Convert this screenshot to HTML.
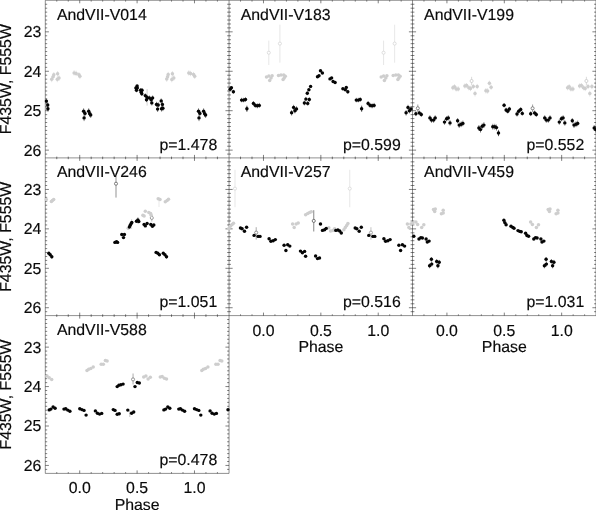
<!DOCTYPE html>
<html><head><meta charset="utf-8"><title>Light curves</title>
<style>html,body{margin:0;padding:0;background:#fff}svg{display:block;filter:grayscale(1)}text{font-family:"Liberation Sans",Arial,Helvetica,sans-serif;font-size:15.85px;fill:#0a0a0a;stroke:#0a0a0a;stroke-width:0.16px;text-rendering:geometricPrecision}</style></head><body>
<svg width="596" height="510" viewBox="0 0 596 510">
<rect width="596" height="510" fill="#fff"/>
<g stroke="#000" stroke-width="0.44" fill="none">
<path d="M45.30 0.30L596.00 0.30"/>
<path d="M45.30 157.90L596.00 157.90"/>
<path d="M45.30 315.60L596.00 315.60"/>
<path d="M45.30 473.40L229.05 473.40"/>
<path d="M45.30 0.30L45.30 473.40"/>
<path d="M229.05 0.30L229.05 473.40"/>
<path d="M412.50 0.30L412.50 315.60"/>
<path d="M596.00 0.30L596.00 315.60"/>
</g>
<path stroke="#000" stroke-width="0.5" fill="none" d="M45.30 4.24h1.90M229.05 4.24h-1.90M45.30 8.19h1.90M229.05 8.19h-1.90M45.30 12.13h1.90M229.05 12.13h-1.90M45.30 16.07h1.90M229.05 16.07h-1.90M45.30 20.02h1.90M229.05 20.02h-1.90M45.30 23.96h1.90M229.05 23.96h-1.90M45.30 27.90h1.90M229.05 27.90h-1.90M45.30 31.84h3.60M229.05 31.84h-3.60M45.30 35.79h1.90M229.05 35.79h-1.90M45.30 39.73h1.90M229.05 39.73h-1.90M45.30 43.67h1.90M229.05 43.67h-1.90M45.30 47.62h1.90M229.05 47.62h-1.90M45.30 51.56h1.90M229.05 51.56h-1.90M45.30 55.50h1.90M229.05 55.50h-1.90M45.30 59.45h1.90M229.05 59.45h-1.90M45.30 63.39h1.90M229.05 63.39h-1.90M45.30 67.33h1.90M229.05 67.33h-1.90M45.30 71.27h3.60M229.05 71.27h-3.60M45.30 75.22h1.90M229.05 75.22h-1.90M45.30 79.16h1.90M229.05 79.16h-1.90M45.30 83.10h1.90M229.05 83.10h-1.90M45.30 87.05h1.90M229.05 87.05h-1.90M45.30 90.99h1.90M229.05 90.99h-1.90M45.30 94.93h1.90M229.05 94.93h-1.90M45.30 98.88h1.90M229.05 98.88h-1.90M45.30 102.82h1.90M229.05 102.82h-1.90M45.30 106.76h1.90M229.05 106.76h-1.90M45.30 110.70h3.60M229.05 110.70h-3.60M45.30 114.65h1.90M229.05 114.65h-1.90M45.30 118.59h1.90M229.05 118.59h-1.90M45.30 122.53h1.90M229.05 122.53h-1.90M45.30 126.48h1.90M229.05 126.48h-1.90M45.30 130.42h1.90M229.05 130.42h-1.90M45.30 134.36h1.90M229.05 134.36h-1.90M45.30 138.31h1.90M229.05 138.31h-1.90M45.30 142.25h1.90M229.05 142.25h-1.90M45.30 146.19h1.90M229.05 146.19h-1.90M45.30 150.13h3.60M229.05 150.13h-3.60M45.30 154.08h1.90M229.05 154.08h-1.90M56.77 0.30v1.30M56.77 157.90v-1.30M68.25 0.30v1.30M68.25 157.90v-1.30M79.72 0.30v3.00M79.72 157.90v-3.00M91.20 0.30v1.30M91.20 157.90v-1.30M102.67 0.30v1.30M102.67 157.90v-1.30M114.15 0.30v1.30M114.15 157.90v-1.30M125.62 0.30v1.30M125.62 157.90v-1.30M137.10 0.30v3.00M137.10 157.90v-3.00M148.57 0.30v1.30M148.57 157.90v-1.30M160.05 0.30v1.30M160.05 157.90v-1.30M171.52 0.30v1.30M171.52 157.90v-1.30M183.00 0.30v1.30M183.00 157.90v-1.30M194.47 0.30v3.00M194.47 157.90v-3.00M205.95 0.30v1.30M205.95 157.90v-1.30M217.42 0.30v1.30M217.42 157.90v-1.30M229.05 4.24h1.90M412.50 4.24h-1.90M229.05 8.19h1.90M412.50 8.19h-1.90M229.05 12.13h1.90M412.50 12.13h-1.90M229.05 16.07h1.90M412.50 16.07h-1.90M229.05 20.02h1.90M412.50 20.02h-1.90M229.05 23.96h1.90M412.50 23.96h-1.90M229.05 27.90h1.90M412.50 27.90h-1.90M229.05 31.84h3.60M412.50 31.84h-3.60M229.05 35.79h1.90M412.50 35.79h-1.90M229.05 39.73h1.90M412.50 39.73h-1.90M229.05 43.67h1.90M412.50 43.67h-1.90M229.05 47.62h1.90M412.50 47.62h-1.90M229.05 51.56h1.90M412.50 51.56h-1.90M229.05 55.50h1.90M412.50 55.50h-1.90M229.05 59.45h1.90M412.50 59.45h-1.90M229.05 63.39h1.90M412.50 63.39h-1.90M229.05 67.33h1.90M412.50 67.33h-1.90M229.05 71.27h3.60M412.50 71.27h-3.60M229.05 75.22h1.90M412.50 75.22h-1.90M229.05 79.16h1.90M412.50 79.16h-1.90M229.05 83.10h1.90M412.50 83.10h-1.90M229.05 87.05h1.90M412.50 87.05h-1.90M229.05 90.99h1.90M412.50 90.99h-1.90M229.05 94.93h1.90M412.50 94.93h-1.90M229.05 98.88h1.90M412.50 98.88h-1.90M229.05 102.82h1.90M412.50 102.82h-1.90M229.05 106.76h1.90M412.50 106.76h-1.90M229.05 110.70h3.60M412.50 110.70h-3.60M229.05 114.65h1.90M412.50 114.65h-1.90M229.05 118.59h1.90M412.50 118.59h-1.90M229.05 122.53h1.90M412.50 122.53h-1.90M229.05 126.48h1.90M412.50 126.48h-1.90M229.05 130.42h1.90M412.50 130.42h-1.90M229.05 134.36h1.90M412.50 134.36h-1.90M229.05 138.31h1.90M412.50 138.31h-1.90M229.05 142.25h1.90M412.50 142.25h-1.90M229.05 146.19h1.90M412.50 146.19h-1.90M229.05 150.13h3.60M412.50 150.13h-3.60M229.05 154.08h1.90M412.50 154.08h-1.90M240.53 0.30v1.30M240.53 157.90v-1.30M252.00 0.30v1.30M252.00 157.90v-1.30M263.48 0.30v3.00M263.48 157.90v-3.00M274.95 0.30v1.30M274.95 157.90v-1.30M286.43 0.30v1.30M286.43 157.90v-1.30M297.90 0.30v1.30M297.90 157.90v-1.30M309.38 0.30v1.30M309.38 157.90v-1.30M320.85 0.30v3.00M320.85 157.90v-3.00M332.32 0.30v1.30M332.32 157.90v-1.30M343.80 0.30v1.30M343.80 157.90v-1.30M355.27 0.30v1.30M355.27 157.90v-1.30M366.75 0.30v1.30M366.75 157.90v-1.30M378.23 0.30v3.00M378.23 157.90v-3.00M389.70 0.30v1.30M389.70 157.90v-1.30M401.17 0.30v1.30M401.17 157.90v-1.30M412.50 4.24h1.90M596.00 4.24h-1.90M412.50 8.19h1.90M596.00 8.19h-1.90M412.50 12.13h1.90M596.00 12.13h-1.90M412.50 16.07h1.90M596.00 16.07h-1.90M412.50 20.02h1.90M596.00 20.02h-1.90M412.50 23.96h1.90M596.00 23.96h-1.90M412.50 27.90h1.90M596.00 27.90h-1.90M412.50 31.84h3.60M596.00 31.84h-3.60M412.50 35.79h1.90M596.00 35.79h-1.90M412.50 39.73h1.90M596.00 39.73h-1.90M412.50 43.67h1.90M596.00 43.67h-1.90M412.50 47.62h1.90M596.00 47.62h-1.90M412.50 51.56h1.90M596.00 51.56h-1.90M412.50 55.50h1.90M596.00 55.50h-1.90M412.50 59.45h1.90M596.00 59.45h-1.90M412.50 63.39h1.90M596.00 63.39h-1.90M412.50 67.33h1.90M596.00 67.33h-1.90M412.50 71.27h3.60M596.00 71.27h-3.60M412.50 75.22h1.90M596.00 75.22h-1.90M412.50 79.16h1.90M596.00 79.16h-1.90M412.50 83.10h1.90M596.00 83.10h-1.90M412.50 87.05h1.90M596.00 87.05h-1.90M412.50 90.99h1.90M596.00 90.99h-1.90M412.50 94.93h1.90M596.00 94.93h-1.90M412.50 98.88h1.90M596.00 98.88h-1.90M412.50 102.82h1.90M596.00 102.82h-1.90M412.50 106.76h1.90M596.00 106.76h-1.90M412.50 110.70h3.60M596.00 110.70h-3.60M412.50 114.65h1.90M596.00 114.65h-1.90M412.50 118.59h1.90M596.00 118.59h-1.90M412.50 122.53h1.90M596.00 122.53h-1.90M412.50 126.48h1.90M596.00 126.48h-1.90M412.50 130.42h1.90M596.00 130.42h-1.90M412.50 134.36h1.90M596.00 134.36h-1.90M412.50 138.31h1.90M596.00 138.31h-1.90M412.50 142.25h1.90M596.00 142.25h-1.90M412.50 146.19h1.90M596.00 146.19h-1.90M412.50 150.13h3.60M596.00 150.13h-3.60M412.50 154.08h1.90M596.00 154.08h-1.90M423.98 0.30v1.30M423.98 157.90v-1.30M435.45 0.30v1.30M435.45 157.90v-1.30M446.93 0.30v3.00M446.93 157.90v-3.00M458.40 0.30v1.30M458.40 157.90v-1.30M469.88 0.30v1.30M469.88 157.90v-1.30M481.35 0.30v1.30M481.35 157.90v-1.30M492.82 0.30v1.30M492.82 157.90v-1.30M504.30 0.30v3.00M504.30 157.90v-3.00M515.77 0.30v1.30M515.77 157.90v-1.30M527.25 0.30v1.30M527.25 157.90v-1.30M538.73 0.30v1.30M538.73 157.90v-1.30M550.20 0.30v1.30M550.20 157.90v-1.30M561.67 0.30v3.00M561.67 157.90v-3.00M573.15 0.30v1.30M573.15 157.90v-1.30M584.62 0.30v1.30M584.62 157.90v-1.30M45.30 161.84h1.90M229.05 161.84h-1.90M45.30 165.79h1.90M229.05 165.79h-1.90M45.30 169.73h1.90M229.05 169.73h-1.90M45.30 173.67h1.90M229.05 173.67h-1.90M45.30 177.62h1.90M229.05 177.62h-1.90M45.30 181.56h1.90M229.05 181.56h-1.90M45.30 185.50h1.90M229.05 185.50h-1.90M45.30 189.44h3.60M229.05 189.44h-3.60M45.30 193.39h1.90M229.05 193.39h-1.90M45.30 197.33h1.90M229.05 197.33h-1.90M45.30 201.27h1.90M229.05 201.27h-1.90M45.30 205.22h1.90M229.05 205.22h-1.90M45.30 209.16h1.90M229.05 209.16h-1.90M45.30 213.10h1.90M229.05 213.10h-1.90M45.30 217.05h1.90M229.05 217.05h-1.90M45.30 220.99h1.90M229.05 220.99h-1.90M45.30 224.93h1.90M229.05 224.93h-1.90M45.30 228.87h3.60M229.05 228.87h-3.60M45.30 232.82h1.90M229.05 232.82h-1.90M45.30 236.76h1.90M229.05 236.76h-1.90M45.30 240.70h1.90M229.05 240.70h-1.90M45.30 244.65h1.90M229.05 244.65h-1.90M45.30 248.59h1.90M229.05 248.59h-1.90M45.30 252.53h1.90M229.05 252.53h-1.90M45.30 256.48h1.90M229.05 256.48h-1.90M45.30 260.42h1.90M229.05 260.42h-1.90M45.30 264.36h1.90M229.05 264.36h-1.90M45.30 268.30h3.60M229.05 268.30h-3.60M45.30 272.25h1.90M229.05 272.25h-1.90M45.30 276.19h1.90M229.05 276.19h-1.90M45.30 280.13h1.90M229.05 280.13h-1.90M45.30 284.08h1.90M229.05 284.08h-1.90M45.30 288.02h1.90M229.05 288.02h-1.90M45.30 291.96h1.90M229.05 291.96h-1.90M45.30 295.90h1.90M229.05 295.90h-1.90M45.30 299.85h1.90M229.05 299.85h-1.90M45.30 303.79h1.90M229.05 303.79h-1.90M45.30 307.73h3.60M229.05 307.73h-3.60M45.30 311.68h1.90M229.05 311.68h-1.90M56.77 157.90v1.30M56.77 315.60v-1.30M68.25 157.90v1.30M68.25 315.60v-1.30M79.72 157.90v3.00M79.72 315.60v-3.00M91.20 157.90v1.30M91.20 315.60v-1.30M102.67 157.90v1.30M102.67 315.60v-1.30M114.15 157.90v1.30M114.15 315.60v-1.30M125.62 157.90v1.30M125.62 315.60v-1.30M137.10 157.90v3.00M137.10 315.60v-3.00M148.57 157.90v1.30M148.57 315.60v-1.30M160.05 157.90v1.30M160.05 315.60v-1.30M171.52 157.90v1.30M171.52 315.60v-1.30M183.00 157.90v1.30M183.00 315.60v-1.30M194.47 157.90v3.00M194.47 315.60v-3.00M205.95 157.90v1.30M205.95 315.60v-1.30M217.42 157.90v1.30M217.42 315.60v-1.30M229.05 161.84h1.90M412.50 161.84h-1.90M229.05 165.79h1.90M412.50 165.79h-1.90M229.05 169.73h1.90M412.50 169.73h-1.90M229.05 173.67h1.90M412.50 173.67h-1.90M229.05 177.62h1.90M412.50 177.62h-1.90M229.05 181.56h1.90M412.50 181.56h-1.90M229.05 185.50h1.90M412.50 185.50h-1.90M229.05 189.44h3.60M412.50 189.44h-3.60M229.05 193.39h1.90M412.50 193.39h-1.90M229.05 197.33h1.90M412.50 197.33h-1.90M229.05 201.27h1.90M412.50 201.27h-1.90M229.05 205.22h1.90M412.50 205.22h-1.90M229.05 209.16h1.90M412.50 209.16h-1.90M229.05 213.10h1.90M412.50 213.10h-1.90M229.05 217.05h1.90M412.50 217.05h-1.90M229.05 220.99h1.90M412.50 220.99h-1.90M229.05 224.93h1.90M412.50 224.93h-1.90M229.05 228.87h3.60M412.50 228.87h-3.60M229.05 232.82h1.90M412.50 232.82h-1.90M229.05 236.76h1.90M412.50 236.76h-1.90M229.05 240.70h1.90M412.50 240.70h-1.90M229.05 244.65h1.90M412.50 244.65h-1.90M229.05 248.59h1.90M412.50 248.59h-1.90M229.05 252.53h1.90M412.50 252.53h-1.90M229.05 256.48h1.90M412.50 256.48h-1.90M229.05 260.42h1.90M412.50 260.42h-1.90M229.05 264.36h1.90M412.50 264.36h-1.90M229.05 268.30h3.60M412.50 268.30h-3.60M229.05 272.25h1.90M412.50 272.25h-1.90M229.05 276.19h1.90M412.50 276.19h-1.90M229.05 280.13h1.90M412.50 280.13h-1.90M229.05 284.08h1.90M412.50 284.08h-1.90M229.05 288.02h1.90M412.50 288.02h-1.90M229.05 291.96h1.90M412.50 291.96h-1.90M229.05 295.90h1.90M412.50 295.90h-1.90M229.05 299.85h1.90M412.50 299.85h-1.90M229.05 303.79h1.90M412.50 303.79h-1.90M229.05 307.73h3.60M412.50 307.73h-3.60M229.05 311.68h1.90M412.50 311.68h-1.90M240.53 157.90v1.30M240.53 315.60v-1.30M252.00 157.90v1.30M252.00 315.60v-1.30M263.48 157.90v3.00M263.48 315.60v-3.00M274.95 157.90v1.30M274.95 315.60v-1.30M286.43 157.90v1.30M286.43 315.60v-1.30M297.90 157.90v1.30M297.90 315.60v-1.30M309.38 157.90v1.30M309.38 315.60v-1.30M320.85 157.90v3.00M320.85 315.60v-3.00M332.32 157.90v1.30M332.32 315.60v-1.30M343.80 157.90v1.30M343.80 315.60v-1.30M355.27 157.90v1.30M355.27 315.60v-1.30M366.75 157.90v1.30M366.75 315.60v-1.30M378.23 157.90v3.00M378.23 315.60v-3.00M389.70 157.90v1.30M389.70 315.60v-1.30M401.17 157.90v1.30M401.17 315.60v-1.30M412.50 161.84h1.90M596.00 161.84h-1.90M412.50 165.79h1.90M596.00 165.79h-1.90M412.50 169.73h1.90M596.00 169.73h-1.90M412.50 173.67h1.90M596.00 173.67h-1.90M412.50 177.62h1.90M596.00 177.62h-1.90M412.50 181.56h1.90M596.00 181.56h-1.90M412.50 185.50h1.90M596.00 185.50h-1.90M412.50 189.44h3.60M596.00 189.44h-3.60M412.50 193.39h1.90M596.00 193.39h-1.90M412.50 197.33h1.90M596.00 197.33h-1.90M412.50 201.27h1.90M596.00 201.27h-1.90M412.50 205.22h1.90M596.00 205.22h-1.90M412.50 209.16h1.90M596.00 209.16h-1.90M412.50 213.10h1.90M596.00 213.10h-1.90M412.50 217.05h1.90M596.00 217.05h-1.90M412.50 220.99h1.90M596.00 220.99h-1.90M412.50 224.93h1.90M596.00 224.93h-1.90M412.50 228.87h3.60M596.00 228.87h-3.60M412.50 232.82h1.90M596.00 232.82h-1.90M412.50 236.76h1.90M596.00 236.76h-1.90M412.50 240.70h1.90M596.00 240.70h-1.90M412.50 244.65h1.90M596.00 244.65h-1.90M412.50 248.59h1.90M596.00 248.59h-1.90M412.50 252.53h1.90M596.00 252.53h-1.90M412.50 256.48h1.90M596.00 256.48h-1.90M412.50 260.42h1.90M596.00 260.42h-1.90M412.50 264.36h1.90M596.00 264.36h-1.90M412.50 268.30h3.60M596.00 268.30h-3.60M412.50 272.25h1.90M596.00 272.25h-1.90M412.50 276.19h1.90M596.00 276.19h-1.90M412.50 280.13h1.90M596.00 280.13h-1.90M412.50 284.08h1.90M596.00 284.08h-1.90M412.50 288.02h1.90M596.00 288.02h-1.90M412.50 291.96h1.90M596.00 291.96h-1.90M412.50 295.90h1.90M596.00 295.90h-1.90M412.50 299.85h1.90M596.00 299.85h-1.90M412.50 303.79h1.90M596.00 303.79h-1.90M412.50 307.73h3.60M596.00 307.73h-3.60M412.50 311.68h1.90M596.00 311.68h-1.90M423.98 157.90v1.30M423.98 315.60v-1.30M435.45 157.90v1.30M435.45 315.60v-1.30M446.93 157.90v3.00M446.93 315.60v-3.00M458.40 157.90v1.30M458.40 315.60v-1.30M469.88 157.90v1.30M469.88 315.60v-1.30M481.35 157.90v1.30M481.35 315.60v-1.30M492.82 157.90v1.30M492.82 315.60v-1.30M504.30 157.90v3.00M504.30 315.60v-3.00M515.77 157.90v1.30M515.77 315.60v-1.30M527.25 157.90v1.30M527.25 315.60v-1.30M538.73 157.90v1.30M538.73 315.60v-1.30M550.20 157.90v1.30M550.20 315.60v-1.30M561.67 157.90v3.00M561.67 315.60v-3.00M573.15 157.90v1.30M573.15 315.60v-1.30M584.62 157.90v1.30M584.62 315.60v-1.30M45.30 319.54h1.90M229.05 319.54h-1.90M45.30 323.49h1.90M229.05 323.49h-1.90M45.30 327.43h1.90M229.05 327.43h-1.90M45.30 331.37h1.90M229.05 331.37h-1.90M45.30 335.31h1.90M229.05 335.31h-1.90M45.30 339.26h1.90M229.05 339.26h-1.90M45.30 343.20h1.90M229.05 343.20h-1.90M45.30 347.14h3.60M229.05 347.14h-3.60M45.30 351.09h1.90M229.05 351.09h-1.90M45.30 355.03h1.90M229.05 355.03h-1.90M45.30 358.97h1.90M229.05 358.97h-1.90M45.30 362.92h1.90M229.05 362.92h-1.90M45.30 366.86h1.90M229.05 366.86h-1.90M45.30 370.80h1.90M229.05 370.80h-1.90M45.30 374.75h1.90M229.05 374.75h-1.90M45.30 378.69h1.90M229.05 378.69h-1.90M45.30 382.63h1.90M229.05 382.63h-1.90M45.30 386.57h3.60M229.05 386.57h-3.60M45.30 390.52h1.90M229.05 390.52h-1.90M45.30 394.46h1.90M229.05 394.46h-1.90M45.30 398.40h1.90M229.05 398.40h-1.90M45.30 402.35h1.90M229.05 402.35h-1.90M45.30 406.29h1.90M229.05 406.29h-1.90M45.30 410.23h1.90M229.05 410.23h-1.90M45.30 414.18h1.90M229.05 414.18h-1.90M45.30 418.12h1.90M229.05 418.12h-1.90M45.30 422.06h1.90M229.05 422.06h-1.90M45.30 426.00h3.60M229.05 426.00h-3.60M45.30 429.95h1.90M229.05 429.95h-1.90M45.30 433.89h1.90M229.05 433.89h-1.90M45.30 437.83h1.90M229.05 437.83h-1.90M45.30 441.78h1.90M229.05 441.78h-1.90M45.30 445.72h1.90M229.05 445.72h-1.90M45.30 449.66h1.90M229.05 449.66h-1.90M45.30 453.61h1.90M229.05 453.61h-1.90M45.30 457.55h1.90M229.05 457.55h-1.90M45.30 461.49h1.90M229.05 461.49h-1.90M45.30 465.43h3.60M229.05 465.43h-3.60M45.30 469.38h1.90M229.05 469.38h-1.90M56.77 315.60v1.30M56.77 473.40v-1.30M68.25 315.60v1.30M68.25 473.40v-1.30M79.72 315.60v3.00M79.72 473.40v-3.00M91.20 315.60v1.30M91.20 473.40v-1.30M102.67 315.60v1.30M102.67 473.40v-1.30M114.15 315.60v1.30M114.15 473.40v-1.30M125.62 315.60v1.30M125.62 473.40v-1.30M137.10 315.60v3.00M137.10 473.40v-3.00M148.57 315.60v1.30M148.57 473.40v-1.30M160.05 315.60v1.30M160.05 473.40v-1.30M171.52 315.60v1.30M171.52 473.40v-1.30M183.00 315.60v1.30M183.00 473.40v-1.30M194.47 315.60v3.00M194.47 473.40v-3.00M205.95 315.60v1.30M205.95 473.40v-1.30M217.42 315.60v1.30M217.42 473.40v-1.30"/>
<g>
<path d="M147.10 89.10V105.60" stroke="#bbb" stroke-width="0.7"/>
<path d="M51.7 76.4v5.8M53.1 74.0v5.6M53.8 72.1v5.5M57.6 71.1v5.4M57.3 76.4v5.8M59.0 75.2v5.7M74.1 70.2v5.3M76.1 70.7v5.4M78.9 72.1v5.5M79.9 73.5v5.6M166.7 76.0v5.8M167.6 74.0v5.6M168.2 71.9v5.5M172.4 71.1v5.4M171.8 76.5v5.8M173.8 75.0v5.7M188.8 70.3v5.3M190.6 70.8v5.4M193.5 71.9v5.5M194.7 73.4v5.6" stroke="#cfcfcf" stroke-width="0.55" fill="none"/>
<g fill="#cecece"><circle cx="51.7" cy="79.3" r="1.75"/><circle cx="53.1" cy="76.8" r="1.75"/><circle cx="53.8" cy="74.8" r="1.75"/><circle cx="57.6" cy="73.8" r="1.75"/><circle cx="57.3" cy="79.3" r="1.75"/><circle cx="59.0" cy="78.1" r="1.75"/><circle cx="74.1" cy="72.9" r="1.75"/><circle cx="76.1" cy="73.4" r="1.75"/><circle cx="78.9" cy="74.8" r="1.75"/><circle cx="79.9" cy="76.3" r="1.75"/><circle cx="166.7" cy="78.9" r="1.75"/><circle cx="167.6" cy="76.8" r="1.75"/><circle cx="168.2" cy="74.6" r="1.75"/><circle cx="172.4" cy="73.8" r="1.75"/><circle cx="171.8" cy="79.4" r="1.75"/><circle cx="173.8" cy="77.9" r="1.75"/><circle cx="188.8" cy="73.0" r="1.75"/><circle cx="190.6" cy="73.5" r="1.75"/><circle cx="193.5" cy="74.6" r="1.75"/><circle cx="194.7" cy="76.2" r="1.75"/></g>
<path d="M46.4 98.6v5.0M47.7 102.3v5.3M47.9 105.9v5.6M83.6 108.3v5.8M85.0 110.4v6.0M84.1 114.7v6.4M88.7 108.3v5.8M89.7 110.7v6.0M90.7 111.9v6.1M135.9 85.9v3.9M137.3 85.9v3.9M136.5 88.2v4.1M140.6 88.2v4.1M142.0 88.2v4.1M141.2 90.1v4.3M141.8 91.6v4.4M145.3 93.3v4.6M147.1 95.0v4.7M146.5 97.2v4.9M149.4 95.5v4.8M152.6 95.5v4.8M151.2 97.2v4.9M151.8 100.3v5.2M156.5 101.8v5.3M158.2 102.3v5.3M161.2 98.4v5.0M162.4 101.8v5.3M162.9 105.5v5.6M157.6 106.3v5.7M161.5 106.0v5.6M198.5 108.3v5.8M199.9 110.4v6.0M199.0 114.7v6.4M203.6 108.3v5.8M204.6 110.7v6.0M205.6 111.9v6.1" stroke="#222" stroke-width="0.55" fill="none"/>
<g fill="#050505"><circle cx="46.4" cy="101.1" r="1.72"/><circle cx="47.7" cy="105.0" r="1.72"/><circle cx="47.9" cy="108.7" r="1.72"/><circle cx="83.6" cy="111.2" r="1.72"/><circle cx="85.0" cy="113.4" r="1.72"/><circle cx="84.1" cy="117.9" r="1.72"/><circle cx="88.7" cy="111.2" r="1.72"/><circle cx="89.7" cy="113.7" r="1.72"/><circle cx="90.7" cy="115.0" r="1.72"/><circle cx="137.1" cy="85.9" r="1.72"/><circle cx="135.9" cy="87.9" r="1.72"/><circle cx="137.3" cy="87.9" r="1.72"/><circle cx="136.5" cy="90.3" r="1.72"/><circle cx="140.6" cy="90.3" r="1.72"/><circle cx="142.0" cy="90.3" r="1.72"/><circle cx="141.2" cy="92.3" r="1.72"/><circle cx="141.8" cy="93.8" r="1.72"/><circle cx="145.3" cy="95.6" r="1.72"/><circle cx="147.1" cy="97.4" r="1.72"/><circle cx="146.5" cy="99.7" r="1.72"/><circle cx="149.4" cy="97.9" r="1.72"/><circle cx="152.6" cy="97.9" r="1.72"/><circle cx="151.2" cy="99.7" r="1.72"/><circle cx="151.8" cy="102.9" r="1.72"/><circle cx="156.5" cy="104.4" r="1.72"/><circle cx="158.2" cy="105.0" r="1.72"/><circle cx="161.2" cy="100.9" r="1.72"/><circle cx="162.4" cy="104.4" r="1.72"/><circle cx="162.9" cy="108.3" r="1.72"/><circle cx="157.6" cy="109.1" r="1.72"/><circle cx="161.5" cy="108.8" r="1.72"/><circle cx="198.5" cy="111.2" r="1.72"/><circle cx="199.9" cy="113.4" r="1.72"/><circle cx="199.0" cy="117.9" r="1.72"/><circle cx="203.6" cy="111.2" r="1.72"/><circle cx="204.6" cy="113.7" r="1.72"/><circle cx="205.6" cy="115.0" r="1.72"/></g>
</g>
<g>
<path d="M246.90 105.50V112.00" stroke="#666" stroke-width="0.7"/>
<path d="M361.65 105.50V112.00" stroke="#666" stroke-width="0.7"/>
<path d="M268.80 40.60V65.00" stroke="#dcdcdc" stroke-width="0.7"/>
<circle cx="268.80" cy="52.70" r="1.55" fill="#fff" stroke="#d1d1d1" stroke-width="0.7"/>
<path d="M279.90 24.70V62.70" stroke="#dcdcdc" stroke-width="0.7"/>
<circle cx="279.90" cy="43.60" r="1.55" fill="#fff" stroke="#d1d1d1" stroke-width="0.7"/>
<path d="M383.55 40.60V65.00" stroke="#dcdcdc" stroke-width="0.7"/>
<circle cx="383.55" cy="52.70" r="1.55" fill="#fff" stroke="#d1d1d1" stroke-width="0.7"/>
<path d="M394.65 24.70V62.70" stroke="#dcdcdc" stroke-width="0.7"/>
<circle cx="394.65" cy="43.60" r="1.55" fill="#fff" stroke="#d1d1d1" stroke-width="0.7"/>

<g fill="#cecece"><circle cx="266.5" cy="77.0" r="1.75"/><circle cx="268.9" cy="76.0" r="1.75"/><circle cx="272.1" cy="75.7" r="1.75"/><circle cx="271.0" cy="78.1" r="1.75"/><circle cx="269.7" cy="80.5" r="1.75"/><circle cx="278.5" cy="75.4" r="1.75"/><circle cx="281.0" cy="74.9" r="1.75"/><circle cx="283.7" cy="75.1" r="1.75"/><circle cx="285.3" cy="76.2" r="1.75"/><circle cx="284.2" cy="78.1" r="1.75"/><circle cx="283.1" cy="79.4" r="1.75"/><circle cx="381.2" cy="77.0" r="1.75"/><circle cx="383.6" cy="76.0" r="1.75"/><circle cx="386.9" cy="75.7" r="1.75"/><circle cx="385.8" cy="78.1" r="1.75"/><circle cx="384.4" cy="80.5" r="1.75"/><circle cx="393.2" cy="75.4" r="1.75"/><circle cx="395.8" cy="74.9" r="1.75"/><circle cx="398.4" cy="75.1" r="1.75"/><circle cx="400.1" cy="76.2" r="1.75"/><circle cx="398.9" cy="78.1" r="1.75"/><circle cx="397.9" cy="79.4" r="1.75"/></g>
<path d="M233.4 89.8v3.9M241.6 97.8v4.5M243.6 97.8v4.5M245.5 97.3v4.5M246.9 106.1v5.2M253.4 101.0v4.8M255.3 102.9v5.0M257.3 103.3v5.0M259.3 102.9v5.0M291.6 110.0v5.6M293.6 104.8v5.1M294.9 108.0v5.4M296.5 106.3v5.3M304.4 100.6v4.8M305.9 96.9v4.5M307.7 101.0v4.8M309.3 97.3v4.5M307.3 91.2v4.0M347.8 89.8v3.9M356.3 97.8v4.5M358.3 97.8v4.5M360.2 97.3v4.5M361.6 106.1v5.2M368.1 101.0v4.8M370.1 102.9v5.0M372.1 103.3v5.0M374.1 102.9v5.0M406.1 110.0v5.6M408.0 104.8v5.1M409.4 108.0v5.4M411.0 106.3v5.3" stroke="#222" stroke-width="0.55" fill="none"/>
<g fill="#050505"><circle cx="231.4" cy="87.7" r="1.72"/><circle cx="230.2" cy="89.3" r="1.72"/><circle cx="233.4" cy="91.7" r="1.72"/><circle cx="241.6" cy="100.1" r="1.72"/><circle cx="243.6" cy="100.1" r="1.72"/><circle cx="245.5" cy="99.5" r="1.72"/><circle cx="246.9" cy="108.7" r="1.72"/><circle cx="253.4" cy="103.4" r="1.72"/><circle cx="255.3" cy="105.4" r="1.72"/><circle cx="257.3" cy="105.8" r="1.72"/><circle cx="259.3" cy="105.4" r="1.72"/><circle cx="291.6" cy="112.8" r="1.72"/><circle cx="293.6" cy="107.4" r="1.72"/><circle cx="294.9" cy="110.7" r="1.72"/><circle cx="296.5" cy="108.9" r="1.72"/><circle cx="304.4" cy="103.0" r="1.72"/><circle cx="305.9" cy="99.1" r="1.72"/><circle cx="307.7" cy="103.4" r="1.72"/><circle cx="309.3" cy="99.5" r="1.72"/><circle cx="307.3" cy="93.2" r="1.72"/><circle cx="308.9" cy="89.7" r="1.72"/><circle cx="310.6" cy="86.4" r="1.72"/><circle cx="317.5" cy="76.8" r="1.72"/><circle cx="319.0" cy="75.8" r="1.72"/><circle cx="320.5" cy="70.8" r="1.72"/><circle cx="322.4" cy="73.0" r="1.72"/><circle cx="330.0" cy="78.9" r="1.72"/><circle cx="331.6" cy="77.9" r="1.72"/><circle cx="333.1" cy="81.5" r="1.72"/><circle cx="335.1" cy="82.5" r="1.72"/><circle cx="342.9" cy="88.7" r="1.72"/><circle cx="346.3" cy="87.4" r="1.72"/><circle cx="345.3" cy="89.7" r="1.72"/><circle cx="347.8" cy="91.7" r="1.72"/><circle cx="356.3" cy="100.1" r="1.72"/><circle cx="358.3" cy="100.1" r="1.72"/><circle cx="360.2" cy="99.5" r="1.72"/><circle cx="361.6" cy="108.7" r="1.72"/><circle cx="368.1" cy="103.4" r="1.72"/><circle cx="370.1" cy="105.4" r="1.72"/><circle cx="372.1" cy="105.8" r="1.72"/><circle cx="374.1" cy="105.4" r="1.72"/><circle cx="406.1" cy="112.8" r="1.72"/><circle cx="408.0" cy="107.4" r="1.72"/><circle cx="409.4" cy="110.7" r="1.72"/><circle cx="411.0" cy="108.9" r="1.72"/></g>
</g>
<g>
<path d="M498.50 130.50V136.00" stroke="#666" stroke-width="0.7"/>
<path d="M417.80 104.50V112.00" stroke="#777" stroke-width="0.7"/>
<circle cx="417.80" cy="108.30" r="1.55" fill="#fff" stroke="#5c5c5c" stroke-width="0.7"/>
<path d="M532.60 104.50V112.00" stroke="#777" stroke-width="0.7"/>
<circle cx="532.60" cy="108.30" r="1.55" fill="#fff" stroke="#5c5c5c" stroke-width="0.7"/>
<path d="M471.60 76.80V85.20" stroke="#ccc" stroke-width="0.7"/>
<circle cx="471.60" cy="81.00" r="1.55" fill="#fff" stroke="#c1c1c1" stroke-width="0.7"/>
<path d="M586.40 76.80V85.20" stroke="#ccc" stroke-width="0.7"/>
<circle cx="586.40" cy="81.00" r="1.55" fill="#fff" stroke="#c1c1c1" stroke-width="0.7"/>
<path d="M452.9 85.1v5.2M454.5 84.2v5.2M456.2 86.2v5.3M458.2 86.2v5.3M464.9 83.4v5.1M466.6 83.0v5.1M468.8 85.1v5.2M470.5 85.8v5.3M473.3 83.9v5.2M477.2 83.9v5.2M475.0 90.8v5.7M485.9 88.0v5.5M487.6 88.2v5.5M489.4 80.7v4.9M491.1 84.7v5.2M567.6 85.1v5.2M569.2 84.2v5.2M570.9 86.2v5.3M572.9 86.2v5.3M579.6 83.4v5.1M581.4 83.0v5.1M583.5 85.1v5.2M585.2 85.8v5.3M588.0 83.9v5.2M591.9 83.9v5.2M589.8 90.8v5.7" stroke="#cfcfcf" stroke-width="0.55" fill="none"/>
<g fill="#cecece"><circle cx="452.9" cy="87.7" r="1.75"/><circle cx="454.5" cy="86.8" r="1.75"/><circle cx="456.2" cy="88.9" r="1.75"/><circle cx="458.2" cy="88.9" r="1.75"/><circle cx="464.9" cy="86.0" r="1.75"/><circle cx="466.6" cy="85.5" r="1.75"/><circle cx="468.8" cy="87.7" r="1.75"/><circle cx="470.5" cy="88.5" r="1.75"/><circle cx="473.3" cy="86.5" r="1.75"/><circle cx="477.2" cy="86.5" r="1.75"/><circle cx="475.0" cy="93.6" r="1.75"/><circle cx="485.9" cy="90.7" r="1.75"/><circle cx="487.6" cy="91.0" r="1.75"/><circle cx="489.4" cy="83.2" r="1.75"/><circle cx="491.1" cy="87.3" r="1.75"/><circle cx="567.6" cy="87.7" r="1.75"/><circle cx="569.2" cy="86.8" r="1.75"/><circle cx="570.9" cy="88.9" r="1.75"/><circle cx="572.9" cy="88.9" r="1.75"/><circle cx="579.6" cy="86.0" r="1.75"/><circle cx="581.4" cy="85.5" r="1.75"/><circle cx="583.5" cy="87.7" r="1.75"/><circle cx="585.2" cy="88.5" r="1.75"/><circle cx="588.0" cy="86.5" r="1.75"/><circle cx="591.9" cy="86.5" r="1.75"/><circle cx="589.8" cy="93.6" r="1.75"/></g>
<path d="M415.9 111.3v4.8M419.3 110.5v4.8M421.3 112.0v4.9M429.9 115.3v5.2M431.5 117.4v5.4M433.6 117.4v5.4M435.2 115.3v5.2M444.5 119.3v5.5M446.6 116.1v5.2M448.3 115.3v5.2M450.0 120.1v5.6M457.6 118.0v5.4M459.2 122.2v5.8M461.2 121.4v5.7M462.9 120.6v5.6M478.9 125.0v6.0M480.5 126.5v6.1M482.2 123.4v5.9M483.9 122.2v5.8M492.8 123.8v5.9M494.8 123.8v5.9M496.5 124.6v6.0M498.5 129.8v6.4M504.1 103.2v4.2M506.1 107.7v4.5M507.7 108.9v4.6M509.4 106.8v4.5M517.0 111.6v4.9M518.7 108.9v4.6M520.7 107.2v4.5M522.3 111.0v4.8M530.7 111.3v4.8M534.6 110.5v4.8M536.3 112.0v4.9M544.7 115.3v5.2M546.3 117.4v5.4M548.3 117.4v5.4M550.0 115.3v5.2M559.3 119.3v5.5M561.4 116.1v5.2M563.1 115.3v5.2M564.8 120.1v5.6M572.3 118.0v5.4M574.0 122.2v5.8M576.0 121.4v5.7M577.7 120.6v5.6M594.2 125.0v6.0M595.8 126.5v6.1" stroke="#222" stroke-width="0.55" fill="none"/>
<g fill="#050505"><circle cx="415.9" cy="113.7" r="1.72"/><circle cx="419.3" cy="112.9" r="1.72"/><circle cx="421.3" cy="114.5" r="1.72"/><circle cx="429.9" cy="117.9" r="1.72"/><circle cx="431.5" cy="120.1" r="1.72"/><circle cx="433.6" cy="120.1" r="1.72"/><circle cx="435.2" cy="117.9" r="1.72"/><circle cx="444.5" cy="122.1" r="1.72"/><circle cx="446.6" cy="118.7" r="1.72"/><circle cx="448.3" cy="117.9" r="1.72"/><circle cx="450.0" cy="122.9" r="1.72"/><circle cx="457.6" cy="120.7" r="1.72"/><circle cx="459.2" cy="125.1" r="1.72"/><circle cx="461.2" cy="124.3" r="1.72"/><circle cx="462.9" cy="123.4" r="1.72"/><circle cx="478.9" cy="128.0" r="1.72"/><circle cx="480.5" cy="129.6" r="1.72"/><circle cx="482.2" cy="126.3" r="1.72"/><circle cx="483.9" cy="125.1" r="1.72"/><circle cx="492.8" cy="126.8" r="1.72"/><circle cx="494.8" cy="126.8" r="1.72"/><circle cx="496.5" cy="127.6" r="1.72"/><circle cx="498.5" cy="133.0" r="1.72"/><circle cx="504.1" cy="105.3" r="1.72"/><circle cx="506.1" cy="110.0" r="1.72"/><circle cx="507.7" cy="111.2" r="1.72"/><circle cx="509.4" cy="109.0" r="1.72"/><circle cx="517.0" cy="114.0" r="1.72"/><circle cx="518.7" cy="111.2" r="1.72"/><circle cx="520.7" cy="109.5" r="1.72"/><circle cx="522.3" cy="113.4" r="1.72"/><circle cx="530.7" cy="113.7" r="1.72"/><circle cx="534.6" cy="112.9" r="1.72"/><circle cx="536.3" cy="114.5" r="1.72"/><circle cx="544.7" cy="117.9" r="1.72"/><circle cx="546.3" cy="120.1" r="1.72"/><circle cx="548.3" cy="120.1" r="1.72"/><circle cx="550.0" cy="117.9" r="1.72"/><circle cx="559.3" cy="122.1" r="1.72"/><circle cx="561.4" cy="118.7" r="1.72"/><circle cx="563.1" cy="117.9" r="1.72"/><circle cx="564.8" cy="122.9" r="1.72"/><circle cx="572.3" cy="120.7" r="1.72"/><circle cx="574.0" cy="125.1" r="1.72"/><circle cx="576.0" cy="124.3" r="1.72"/><circle cx="577.7" cy="123.4" r="1.72"/><circle cx="594.2" cy="128.0" r="1.72"/><circle cx="595.8" cy="129.6" r="1.72"/></g>
</g>
<g>
<path d="M159.00 197.00V207.00" stroke="#e0e0e0" stroke-width="0.7"/>
<path d="M131.60 219.00V229.00" stroke="#ccc" stroke-width="0.7"/>
<path d="M137.90 217.00V223.50" stroke="#999" stroke-width="0.7"/>
<path d="M116.00 176.00V197.60" stroke="#666" stroke-width="0.7"/>
<circle cx="116.00" cy="183.70" r="1.55" fill="#fff" stroke="#4f4f4f" stroke-width="0.7"/>
<path d="M151.80 215.00V221.50" stroke="#999" stroke-width="0.7"/>
<circle cx="151.80" cy="217.90" r="1.55" fill="#fff" stroke="#777777" stroke-width="0.7"/>

<g fill="#cecece"><circle cx="51.4" cy="201.4" r="1.75"/><circle cx="52.4" cy="200.4" r="1.75"/><circle cx="53.7" cy="199.4" r="1.75"/><circle cx="46.3" cy="199.4" r="1.75"/><circle cx="128.2" cy="228.2" r="1.75"/><circle cx="142.9" cy="215.3" r="1.75"/><circle cx="144.1" cy="215.9" r="1.75"/><circle cx="145.3" cy="211.2" r="1.75"/><circle cx="148.8" cy="212.4" r="1.75"/><circle cx="150.6" cy="213.5" r="1.75"/><circle cx="151.2" cy="215.3" r="1.75"/><circle cx="158.2" cy="198.8" r="1.75"/><circle cx="160.0" cy="199.6" r="1.75"/><circle cx="165.3" cy="201.8" r="1.75"/><circle cx="167.1" cy="200.4" r="1.75"/><circle cx="168.5" cy="199.2" r="1.75"/></g>
<path d="M51.8 254.8v3.9M166.5 254.8v3.9" stroke="#222" stroke-width="0.55" fill="none"/>
<g fill="#050505"><circle cx="48.8" cy="253.3" r="1.72"/><circle cx="50.2" cy="254.7" r="1.72"/><circle cx="51.8" cy="256.7" r="1.72"/><circle cx="114.9" cy="242.4" r="1.72"/><circle cx="116.5" cy="241.8" r="1.72"/><circle cx="117.6" cy="242.4" r="1.72"/><circle cx="121.8" cy="234.5" r="1.72"/><circle cx="124.4" cy="234.5" r="1.72"/><circle cx="123.5" cy="237.6" r="1.72"/><circle cx="129.4" cy="227.1" r="1.72"/><circle cx="130.2" cy="225.3" r="1.72"/><circle cx="131.2" cy="223.5" r="1.72"/><circle cx="131.8" cy="222.4" r="1.72"/><circle cx="136.5" cy="221.2" r="1.72"/><circle cx="137.9" cy="220.0" r="1.72"/><circle cx="138.8" cy="221.5" r="1.72"/><circle cx="144.1" cy="224.4" r="1.72"/><circle cx="145.3" cy="225.9" r="1.72"/><circle cx="147.1" cy="223.5" r="1.72"/><circle cx="150.8" cy="224.4" r="1.72"/><circle cx="152.4" cy="226.2" r="1.72"/><circle cx="153.8" cy="224.9" r="1.72"/><circle cx="156.1" cy="252.4" r="1.72"/><circle cx="157.8" cy="253.3" r="1.72"/><circle cx="159.4" cy="254.7" r="1.72"/><circle cx="163.3" cy="253.3" r="1.72"/><circle cx="164.9" cy="254.7" r="1.72"/><circle cx="166.5" cy="256.7" r="1.72"/></g>
</g>
<g>
<path d="M235.00 169.80V207.20" stroke="#dcdcdc" stroke-width="0.7"/>
<circle cx="235.00" cy="188.60" r="1.55" fill="#fff" stroke="#d1d1d1" stroke-width="0.7"/>
<path d="M349.75 169.80V207.20" stroke="#dcdcdc" stroke-width="0.7"/>
<circle cx="349.75" cy="188.60" r="1.55" fill="#fff" stroke="#d1d1d1" stroke-width="0.7"/>
<path d="M313.75 210.20V231.50" stroke="#555" stroke-width="0.7"/>
<circle cx="313.75" cy="220.90" r="1.55" fill="#fff" stroke="#424242" stroke-width="0.7"/>
<path d="M256.20 227.20V239.60" stroke="#888" stroke-width="0.7"/>
<circle cx="256.20" cy="232.60" r="1.55" fill="#fff" stroke="#6a6a6a" stroke-width="0.7"/>
<path d="M370.95 227.20V239.60" stroke="#aaa" stroke-width="0.7"/>
<circle cx="370.95" cy="232.60" r="1.55" fill="#fff" stroke="#848484" stroke-width="0.7"/>

<g fill="#cecece"><circle cx="228.9" cy="228.5" r="1.75"/><circle cx="230.3" cy="226.2" r="1.75"/><circle cx="232.1" cy="224.4" r="1.75"/><circle cx="233.5" cy="223.2" r="1.75"/><circle cx="292.6" cy="224.1" r="1.75"/><circle cx="294.2" cy="227.6" r="1.75"/><circle cx="296.1" cy="224.1" r="1.75"/><circle cx="298.2" cy="222.9" r="1.75"/><circle cx="305.6" cy="214.7" r="1.75"/><circle cx="307.7" cy="213.5" r="1.75"/><circle cx="309.6" cy="212.6" r="1.75"/><circle cx="311.3" cy="211.7" r="1.75"/><circle cx="328.8" cy="227.8" r="1.75"/><circle cx="330.6" cy="231.0" r="1.75"/><circle cx="332.8" cy="230.4" r="1.75"/><circle cx="334.6" cy="228.8" r="1.75"/><circle cx="343.9" cy="229.8" r="1.75"/><circle cx="345.3" cy="227.4" r="1.75"/><circle cx="346.7" cy="225.4" r="1.75"/><circle cx="347.9" cy="223.4" r="1.75"/><circle cx="407.4" cy="224.1" r="1.75"/><circle cx="408.9" cy="227.6" r="1.75"/><circle cx="410.9" cy="224.1" r="1.75"/><circle cx="412.9" cy="222.9" r="1.75"/></g>

<g fill="#050505"><circle cx="240.5" cy="228.0" r="1.72"/><circle cx="242.1" cy="228.7" r="1.72"/><circle cx="246.6" cy="227.2" r="1.72"/><circle cx="244.5" cy="231.2" r="1.72"/><circle cx="254.1" cy="235.4" r="1.72"/><circle cx="258.1" cy="236.4" r="1.72"/><circle cx="260.0" cy="236.4" r="1.72"/><circle cx="269.1" cy="238.7" r="1.72"/><circle cx="270.9" cy="241.2" r="1.72"/><circle cx="273.2" cy="240.8" r="1.72"/><circle cx="275.3" cy="239.6" r="1.72"/><circle cx="284.1" cy="245.3" r="1.72"/><circle cx="287.7" cy="244.7" r="1.72"/><circle cx="289.8" cy="246.1" r="1.72"/><circle cx="285.9" cy="250.5" r="1.72"/><circle cx="300.5" cy="251.1" r="1.72"/><circle cx="302.4" cy="252.8" r="1.72"/><circle cx="304.6" cy="251.4" r="1.72"/><circle cx="305.6" cy="256.2" r="1.72"/><circle cx="315.6" cy="256.0" r="1.72"/><circle cx="317.5" cy="258.6" r="1.72"/><circle cx="319.5" cy="258.0" r="1.72"/><circle cx="320.5" cy="224.0" r="1.72"/><circle cx="322.5" cy="230.4" r="1.72"/><circle cx="324.6" cy="229.8" r="1.72"/><circle cx="326.2" cy="228.4" r="1.72"/><circle cx="335.8" cy="230.4" r="1.72"/><circle cx="337.9" cy="230.0" r="1.72"/><circle cx="339.7" cy="231.0" r="1.72"/><circle cx="341.3" cy="233.0" r="1.72"/><circle cx="355.2" cy="228.0" r="1.72"/><circle cx="356.8" cy="228.7" r="1.72"/><circle cx="361.3" cy="227.2" r="1.72"/><circle cx="359.2" cy="231.2" r="1.72"/><circle cx="368.8" cy="235.4" r="1.72"/><circle cx="372.9" cy="236.4" r="1.72"/><circle cx="374.8" cy="236.4" r="1.72"/><circle cx="383.9" cy="238.7" r="1.72"/><circle cx="385.6" cy="241.2" r="1.72"/><circle cx="387.9" cy="240.8" r="1.72"/><circle cx="390.1" cy="239.6" r="1.72"/><circle cx="398.9" cy="245.3" r="1.72"/><circle cx="402.4" cy="244.7" r="1.72"/><circle cx="404.6" cy="246.1" r="1.72"/><circle cx="400.6" cy="250.5" r="1.72"/></g>
</g>
<g>

<g fill="#cecece"><circle cx="415.9" cy="222.1" r="1.75"/><circle cx="417.6" cy="224.4" r="1.75"/><circle cx="421.7" cy="227.6" r="1.75"/><circle cx="423.8" cy="224.7" r="1.75"/><circle cx="433.5" cy="209.4" r="1.75"/><circle cx="435.3" cy="208.9" r="1.75"/><circle cx="434.7" cy="211.5" r="1.75"/><circle cx="443.2" cy="210.3" r="1.75"/><circle cx="441.4" cy="213.8" r="1.75"/><circle cx="443.2" cy="212.9" r="1.75"/><circle cx="530.6" cy="222.1" r="1.75"/><circle cx="532.4" cy="224.4" r="1.75"/><circle cx="536.4" cy="227.6" r="1.75"/><circle cx="538.5" cy="224.7" r="1.75"/><circle cx="548.2" cy="209.4" r="1.75"/><circle cx="550.0" cy="208.9" r="1.75"/><circle cx="549.4" cy="211.5" r="1.75"/><circle cx="557.9" cy="210.3" r="1.75"/><circle cx="556.1" cy="213.8" r="1.75"/><circle cx="557.9" cy="212.9" r="1.75"/></g>
<path d="M431.4 257.1v4.5M429.6 263.3v5.0M431.7 261.7v4.9M436.7 259.1v4.6M439.2 259.9v4.7M437.9 263.3v5.0M546.1 257.1v4.5M544.4 263.3v5.0M546.4 261.7v4.9M551.4 259.1v4.6M553.9 259.9v4.7M552.6 263.3v5.0" stroke="#222" stroke-width="0.55" fill="none"/>
<g fill="#050505"><circle cx="413.8" cy="236.2" r="1.72"/><circle cx="419.0" cy="239.0" r="1.72"/><circle cx="420.8" cy="237.6" r="1.72"/><circle cx="422.4" cy="238.0" r="1.72"/><circle cx="426.1" cy="239.0" r="1.72"/><circle cx="427.3" cy="242.0" r="1.72"/><circle cx="429.1" cy="241.1" r="1.72"/><circle cx="431.4" cy="259.3" r="1.72"/><circle cx="429.6" cy="265.8" r="1.72"/><circle cx="431.7" cy="264.1" r="1.72"/><circle cx="436.7" cy="261.4" r="1.72"/><circle cx="439.2" cy="262.3" r="1.72"/><circle cx="437.9" cy="265.8" r="1.72"/><circle cx="503.9" cy="220.3" r="1.72"/><circle cx="504.8" cy="222.6" r="1.72"/><circle cx="506.1" cy="224.7" r="1.72"/><circle cx="511.0" cy="226.2" r="1.72"/><circle cx="512.8" cy="227.4" r="1.72"/><circle cx="514.0" cy="228.3" r="1.72"/><circle cx="518.0" cy="230.6" r="1.72"/><circle cx="519.8" cy="231.4" r="1.72"/><circle cx="521.2" cy="231.8" r="1.72"/><circle cx="525.6" cy="233.2" r="1.72"/><circle cx="526.9" cy="235.5" r="1.72"/><circle cx="528.6" cy="236.2" r="1.72"/><circle cx="533.8" cy="239.0" r="1.72"/><circle cx="535.5" cy="237.6" r="1.72"/><circle cx="537.1" cy="238.0" r="1.72"/><circle cx="540.9" cy="239.0" r="1.72"/><circle cx="542.0" cy="242.0" r="1.72"/><circle cx="543.9" cy="241.1" r="1.72"/><circle cx="546.1" cy="259.3" r="1.72"/><circle cx="544.4" cy="265.8" r="1.72"/><circle cx="546.4" cy="264.1" r="1.72"/><circle cx="551.4" cy="261.4" r="1.72"/><circle cx="553.9" cy="262.3" r="1.72"/><circle cx="552.6" cy="265.8" r="1.72"/></g>
</g>
<g>
<path d="M129.80 411.00V417.00" stroke="#aaa" stroke-width="0.7"/>
<path d="M133.05 373.50V384.40" stroke="#888" stroke-width="0.7"/>
<circle cx="133.05" cy="379.40" r="1.55" fill="#fff" stroke="#6a6a6a" stroke-width="0.7"/>

<g fill="#cecece"><circle cx="47.0" cy="376.0" r="1.75"/><circle cx="49.2" cy="377.7" r="1.75"/><circle cx="51.7" cy="379.4" r="1.75"/><circle cx="87.0" cy="370.6" r="1.75"/><circle cx="88.7" cy="369.3" r="1.75"/><circle cx="90.8" cy="368.5" r="1.75"/><circle cx="93.2" cy="367.1" r="1.75"/><circle cx="101.2" cy="364.3" r="1.75"/><circle cx="103.3" cy="364.3" r="1.75"/><circle cx="105.4" cy="360.4" r="1.75"/><circle cx="107.1" cy="360.9" r="1.75"/><circle cx="143.7" cy="377.0" r="1.75"/><circle cx="145.9" cy="376.1" r="1.75"/><circle cx="148.1" cy="379.1" r="1.75"/><circle cx="150.3" cy="377.3" r="1.75"/><circle cx="160.3" cy="377.0" r="1.75"/><circle cx="162.2" cy="376.4" r="1.75"/><circle cx="164.4" cy="378.2" r="1.75"/><circle cx="166.5" cy="379.1" r="1.75"/><circle cx="201.8" cy="370.6" r="1.75"/><circle cx="203.4" cy="369.3" r="1.75"/><circle cx="205.5" cy="368.5" r="1.75"/><circle cx="207.9" cy="367.1" r="1.75"/><circle cx="215.9" cy="364.3" r="1.75"/><circle cx="218.0" cy="364.3" r="1.75"/><circle cx="220.1" cy="360.4" r="1.75"/><circle cx="221.8" cy="360.9" r="1.75"/></g>

<g fill="#050505"><circle cx="49.2" cy="409.9" r="1.72"/><circle cx="50.9" cy="409.1" r="1.72"/><circle cx="53.1" cy="407.0" r="1.72"/><circle cx="55.1" cy="408.2" r="1.72"/><circle cx="64.0" cy="409.1" r="1.72"/><circle cx="65.7" cy="408.7" r="1.72"/><circle cx="67.7" cy="410.1" r="1.72"/><circle cx="69.9" cy="411.2" r="1.72"/><circle cx="79.8" cy="408.7" r="1.72"/><circle cx="81.9" cy="409.6" r="1.72"/><circle cx="84.0" cy="410.4" r="1.72"/><circle cx="86.1" cy="415.1" r="1.72"/><circle cx="95.4" cy="410.9" r="1.72"/><circle cx="97.4" cy="413.3" r="1.72"/><circle cx="99.6" cy="414.1" r="1.72"/><circle cx="101.7" cy="413.4" r="1.72"/><circle cx="113.3" cy="409.6" r="1.72"/><circle cx="115.0" cy="410.4" r="1.72"/><circle cx="117.2" cy="414.3" r="1.72"/><circle cx="119.2" cy="413.8" r="1.72"/><circle cx="127.8" cy="410.1" r="1.72"/><circle cx="131.6" cy="413.2" r="1.72"/><circle cx="133.7" cy="412.0" r="1.72"/><circle cx="117.2" cy="386.6" r="1.72"/><circle cx="118.9" cy="385.2" r="1.72"/><circle cx="120.9" cy="384.7" r="1.72"/><circle cx="123.1" cy="384.1" r="1.72"/><circle cx="135.0" cy="386.6" r="1.72"/><circle cx="137.3" cy="382.5" r="1.72"/><circle cx="139.3" cy="383.0" r="1.72"/><circle cx="163.9" cy="409.9" r="1.72"/><circle cx="165.6" cy="409.1" r="1.72"/><circle cx="167.8" cy="407.0" r="1.72"/><circle cx="169.8" cy="408.2" r="1.72"/><circle cx="178.8" cy="409.1" r="1.72"/><circle cx="180.4" cy="408.7" r="1.72"/><circle cx="182.4" cy="410.1" r="1.72"/><circle cx="184.6" cy="411.2" r="1.72"/><circle cx="194.5" cy="408.7" r="1.72"/><circle cx="196.6" cy="409.6" r="1.72"/><circle cx="198.8" cy="410.4" r="1.72"/><circle cx="200.8" cy="415.1" r="1.72"/><circle cx="210.1" cy="410.9" r="1.72"/><circle cx="212.1" cy="413.3" r="1.72"/><circle cx="214.3" cy="414.1" r="1.72"/><circle cx="216.4" cy="413.4" r="1.72"/><circle cx="228.0" cy="409.8" r="1.72"/></g>
</g>
<text transform="translate(56.9 19.8) scale(1 1.000)">AndVII-V014</text>
<text transform="translate(217.2 149.6) scale(1 1.000)" text-anchor="end">p=1.478</text>
<text transform="translate(240.7 19.8) scale(1 1.000)">AndVII-V183</text>
<text transform="translate(400.7 149.6) scale(1 1.000)" text-anchor="end">p=0.599</text>
<text transform="translate(424.1 19.8) scale(1 1.000)">AndVII-V199</text>
<text transform="translate(584.2 149.6) scale(1 1.000)" text-anchor="end">p=0.552</text>
<text transform="translate(56.9 177.3) scale(1 1.000)">AndVII-V246</text>
<text transform="translate(217.2 307.3) scale(1 1.000)" text-anchor="end">p=1.051</text>
<text transform="translate(240.7 177.3) scale(1 1.000)">AndVII-V257</text>
<text transform="translate(400.7 307.3) scale(1 1.000)" text-anchor="end">p=0.516</text>
<text transform="translate(424.1 177.3) scale(1 1.000)">AndVII-V459</text>
<text transform="translate(584.2 307.3) scale(1 1.000)" text-anchor="end">p=1.031</text>
<text transform="translate(56.9 335.1) scale(1 1.000)">AndVII-V588</text>
<text transform="translate(217.2 465.1) scale(1 1.000)" text-anchor="end">p=0.478</text>
<text transform="translate(41.3 37.2) scale(1 1.000)" text-anchor="end">23</text>
<text transform="translate(41.3 76.7) scale(1 1.000)" text-anchor="end">24</text>
<text transform="translate(41.3 116.1) scale(1 1.000)" text-anchor="end">25</text>
<text transform="translate(41.3 155.5) scale(1 1.000)" text-anchor="end">26</text>
<text transform="translate(11.4 79.2) rotate(-90) scale(1 1.000)" text-anchor="middle">F435W, F555W</text>
<text transform="translate(41.3 194.8) scale(1 1.000)" text-anchor="end">23</text>
<text transform="translate(41.3 234.3) scale(1 1.000)" text-anchor="end">24</text>
<text transform="translate(41.3 273.7) scale(1 1.000)" text-anchor="end">25</text>
<text transform="translate(41.3 313.1) scale(1 1.000)" text-anchor="end">26</text>
<text transform="translate(11.4 236.8) rotate(-90) scale(1 1.000)" text-anchor="middle">F435W, F555W</text>
<text transform="translate(41.3 352.5) scale(1 1.000)" text-anchor="end">23</text>
<text transform="translate(41.3 392.0) scale(1 1.000)" text-anchor="end">24</text>
<text transform="translate(41.3 431.4) scale(1 1.000)" text-anchor="end">25</text>
<text transform="translate(41.3 470.8) scale(1 1.000)" text-anchor="end">26</text>
<text transform="translate(11.4 394.5) rotate(-90) scale(1 1.000)" text-anchor="middle">F435W, F555W</text>
<text transform="translate(263.5 335.6) scale(1 1.000)" text-anchor="middle">0.0</text>
<text transform="translate(320.9 335.6) scale(1 1.000)" text-anchor="middle">0.5</text>
<text transform="translate(378.2 335.6) scale(1 1.000)" text-anchor="middle">1.0</text>
<text transform="translate(320.9 352.1) scale(1 1.000)" text-anchor="middle">Phase</text>
<text transform="translate(446.9 335.6) scale(1 1.000)" text-anchor="middle">0.0</text>
<text transform="translate(504.3 335.6) scale(1 1.000)" text-anchor="middle">0.5</text>
<text transform="translate(561.7 335.6) scale(1 1.000)" text-anchor="middle">1.0</text>
<text transform="translate(504.3 352.1) scale(1 1.000)" text-anchor="middle">Phase</text>
<text transform="translate(79.7 493.4) scale(1 1.000)" text-anchor="middle">0.0</text>
<text transform="translate(137.1 493.4) scale(1 1.000)" text-anchor="middle">0.5</text>
<text transform="translate(194.5 493.4) scale(1 1.000)" text-anchor="middle">1.0</text>
<text transform="translate(137.1 509.9) scale(1 1.000)" text-anchor="middle">Phase</text>
</svg></body></html>
